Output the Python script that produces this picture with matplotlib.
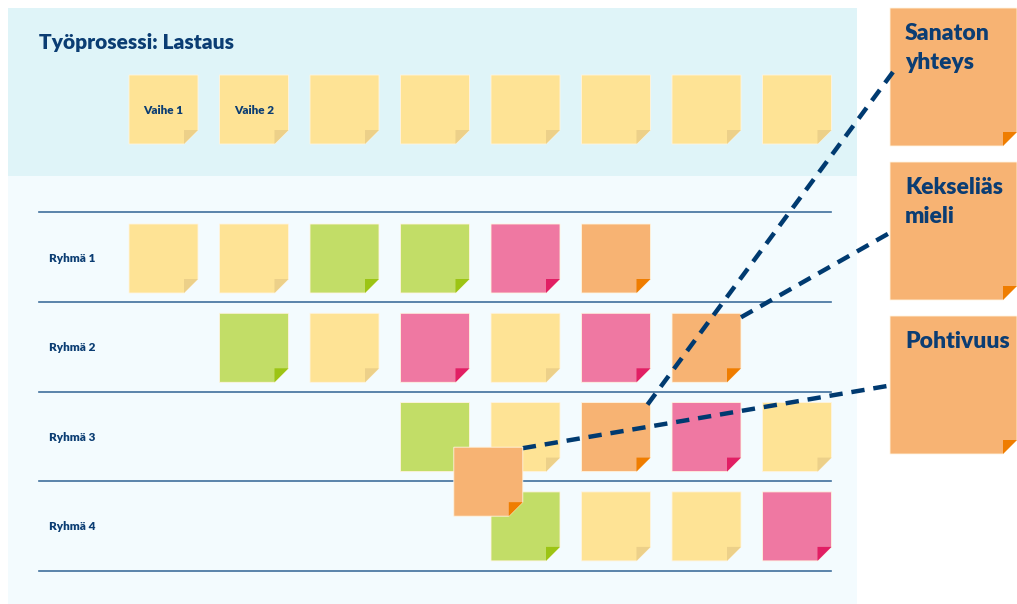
import matplotlib.pyplot as plt
from matplotlib.patches import Polygon, Rectangle

plt.rcParams['font.family'] = ['Lato', 'DejaVu Sans']

# värit: (lappu, taitos)
varit = {
    'Y': ('#fee395', '#ecd089'),
    'G': ('#c2dd67', '#9cc414'),
    'P': ('#ef78a2', '#e11f64'),
    'O': ('#f7b373', '#ef7d00'),
}
tummansininen = '#0b3d73'

otsikko = 'Työprosessi: Lastaus'
vaiheet = ['Vaihe 1', 'Vaihe 2', '', '', '', '', '', '']
ryhmat = ['Ryhmä 1', 'Ryhmä 2', 'Ryhmä 3', 'Ryhmä 4']
# ryhmien lappujen aloitussarake ja värit
ryhma_alku = [0, 1, 3, 4]
ryhma_varit = [
    ['Y', 'Y', 'G', 'G', 'P', 'O'],
    ['G', 'Y', 'P', 'Y', 'P', 'O'],
    ['G', 'Y', 'O', 'P', 'Y'],
    ['G', 'Y', 'Y', 'P'],
]
taidot = ['Sanaton\nyhteys', 'Kekseliäs\nmieli', 'Pohtivuus']
# mistä lapusta (rivi, sarake) viiva lähtee kuhunkin taitoon
taito_lahde = [(2, 5), (1, 6), (2.6, 3.6)]

fig = plt.figure(figsize=(10.17, 6.04), dpi=100)
ax = fig.add_axes([0, 0, 1, 1])
ax.set_xlim(0, 1017)
ax.set_ylim(604, 0)
ax.axis('off')

KOKO = 69
TAITOS = 14
X0, DX = 129, 90.5
Y0, DY = 224, 89.3


def lappu(x, y, vari, w=KOKO, h=KOKO, f=TAITOS, z=3):
    pohja, taitos = varit[vari]
    ax.add_patch(Polygon([(x, y), (x + w, y), (x + w, y + h - f), (x + w - f, y + h), (x, y + h)],
                         closed=True, fc=pohja, ec='#fff4e0', lw=0.6, zorder=z))
    ax.add_patch(Polygon([(x + w, y + h - f), (x + w - f, y + h), (x + w - f, y + h - f)],
                         closed=True, fc=taitos, ec='none', zorder=z))


# taustat
ax.add_patch(Rectangle((8, 8), 849, 168, fc='#dff4f8', ec='none', zorder=0))
ax.add_patch(Rectangle((8, 176), 849, 428, fc='#f3fbfe', ec='none', zorder=0))

ax.text(39, 43, otsikko, fontsize=15, fontweight='heavy', color=tummansininen, va='center')

for i, v in enumerate(vaiheet):
    x = X0 + i * DX
    lappu(x, 75, 'Y')
    if v:
        ax.text(x + KOKO / 2, 110, v, fontsize=8.5, fontweight='heavy', color=tummansininen,
                ha='center', va='center', zorder=4)

# rivien viivat
for r in range(len(ryhmat) + 1):
    y = 212 + r * 89.75
    ax.plot([39, 831], [y, y], color='#3f6f9c', lw=1.2, zorder=1)

for r, nimi in enumerate(ryhmat):
    y = Y0 + r * DY
    ax.text(49, y + KOKO / 2, nimi, fontsize=8.5, fontweight='heavy', color=tummansininen, va='center')
    for j, v in enumerate(ryhma_varit[r]):
        lappu(X0 + (ryhma_alku[r] + j) * DX, y, v)

# irrallinen lappu ryhmien 3 ja 4 välissä
lx = X0 + taito_lahde[2][1] * DX - 1
ly = Y0 + taito_lahde[2][0] * DY - 9
lappu(lx, ly, 'O', z=6)

# taitolaput oikealla
for k, t in enumerate(taidot):
    y = 8 + k * 154
    lappu(890, y, 'O', w=127, h=138, f=14, z=3)
    ax.text(905, y + 15, t, fontsize=16.5, fontweight='heavy', color=tummansininen,
            va='top', linespacing=1.45, zorder=4)

# katkoviivat
viivat = [
    ((X0 + 5 * DX + 66, Y0 + 2 * DY + 2), (893, 72)),
    ((X0 + 6 * DX + 69, Y0 + DY + 4), (893, 231)),
    ((lx + 69, ly + 1), (893, 385)),
]
for (xa, ya), (xb, yb) in viivat:
    ax.plot([xa, xb], [ya, yb], color='#003a70', lw=3.2, ls=(0, (3, 2)), zorder=5,
            solid_capstyle='butt', dash_capstyle='butt')

fig.savefig('out.png', dpi=100)
